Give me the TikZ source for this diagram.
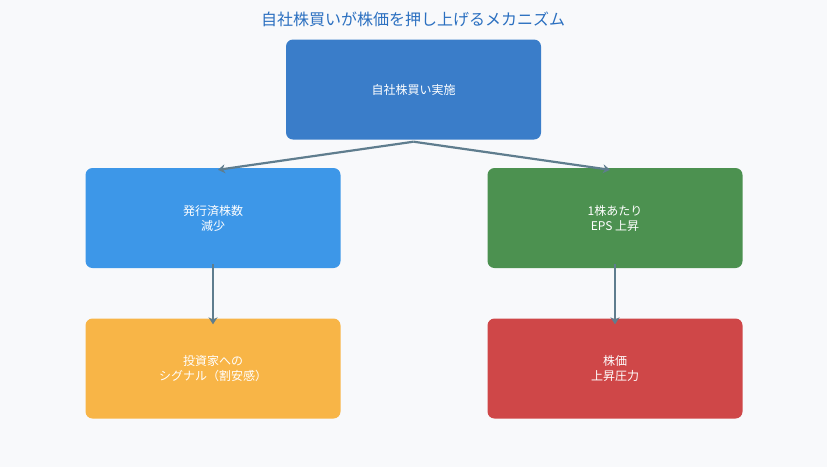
\documentclass[tikz,border=0pt]{standalone}
\usepackage{fontspec}
\setmainfont{Noto Sans CJK JP}
\usetikzlibrary{arrows.meta}
\definecolor{bg}{HTML}{F8F9FB}
\definecolor{ctop}{HTML}{3A7DC9}
\definecolor{cblue}{HTML}{3D97E8}
\definecolor{cgreen}{HTML}{4C9150}
\definecolor{cyellow}{HTML}{F8B547}
\definecolor{cred}{HTML}{CF4748}
\definecolor{carrow}{HTML}{5F7D8E}
\definecolor{ctitle}{HTML}{2A6FC0}
\begin{document}
\begin{tikzpicture}[x=1pt,y=-1pt,
  box/.style={rounded corners=7pt,minimum width=255pt,minimum height=100pt,text=white,align=center,font=\fontsize{12}{15}\selectfont,inner sep=0pt},
  arr/.style={draw=carrow,line width=2.2pt,-{Stealth[length=7pt,width=9pt]}}]
\useasboundingbox[fill=bg] (0,0) rectangle (827,467);
\node[text=ctitle,font=\fontsize{16}{18}\selectfont] (title) at (413,19) {自社株買いが株価を押し上げるメカニズム};
\node[box,fill=ctop] (top) at (413.5,89.5) {自社株買い実施};
\node[box,fill=cblue] (l1) at (213,218) {発行済株数\\減少};
\node[box,fill=cgreen] (r1) at (615,218) {1株あたり\\EPS 上昇};
\node[box,fill=cyellow] (l2) at (213,368.5) {投資家への\\シグナル（割安感）};
\node[box,fill=cred] (r2) at (615,368.5) {株価\\上昇圧力};
\draw[arr] (top.south) ++(0,2) -- ([xshift=5pt,yshift=-2pt]l1.north);
\draw[arr] (top.south) ++(0,2) -- ([xshift=-5pt,yshift=-2pt]r1.north);
\draw[arr] ([yshift=4pt]l1.south) -- ([yshift=-6pt]l2.north);
\draw[arr] ([yshift=4pt]r1.south) -- ([yshift=-6pt]r2.north);
\end{tikzpicture}
\end{document}
